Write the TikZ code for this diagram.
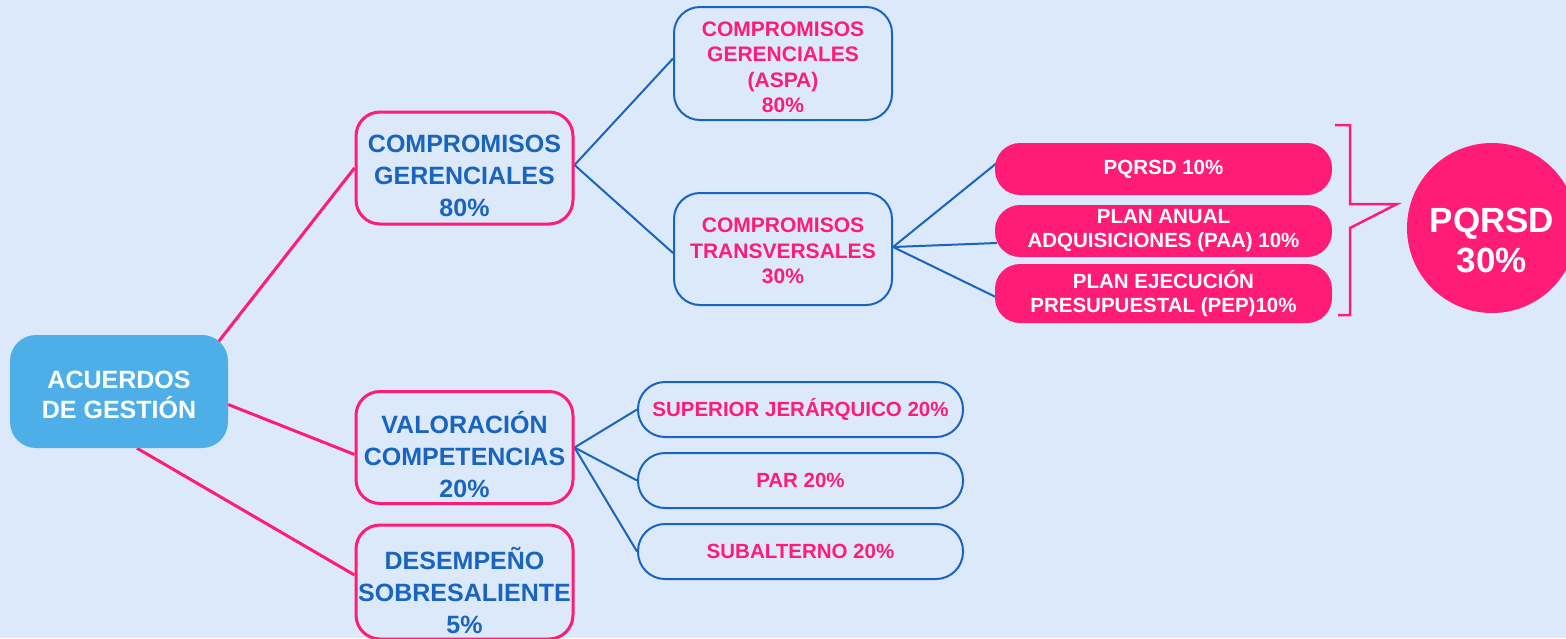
\documentclass[tikz,border=0pt]{standalone}
\usepackage{fontspec}
\setmainfont{Liberation Sans}
\definecolor{bgc}{RGB}{220,233,250}
\definecolor{pk}{RGB}{255,28,118}
\definecolor{bl}{RGB}{24,100,190}
\definecolor{sky}{RGB}{78,175,232}
\pgfdeclarelayer{back}
\pgfdeclarelayer{edges}
\pgfsetlayers{back,edges,main}
\begin{document}
\begin{tikzpicture}[x=1pt,y=-1pt,
  root/.style={rectangle,rounded corners=26pt,fill=sky,minimum width=218pt,minimum height=113pt,inner sep=0pt},
  lvlone/.style={rectangle,rounded corners=24pt,draw=pk,line width=3pt,fill=bgc,minimum width=217pt,minimum height=112pt,inner sep=0pt},
  lvltwo/.style={rectangle,rounded corners=26pt,draw=bl,line width=2pt,fill=bgc,minimum width=217pt,minimum height=112pt,inner sep=0pt},
  pill/.style={rectangle,rounded corners=25pt,fill=pk,text=white,font=\bfseries\fontsize{20.5}{24}\selectfont,align=center,minimum width=337pt,inner sep=0pt},
  oval/.style={rectangle,rounded corners=27pt,draw=bl,line width=2pt,fill=bgc,text=pk,font=\bfseries\fontsize{20.5}{24}\selectfont,align=center,minimum width=325pt,minimum height=55pt,inner sep=0pt},
  roottxt/.style={text=white,font=\bfseries\fontsize{25}{30}\selectfont,align=center,inner sep=0pt},
  onetxt/.style={text=bl,font=\bfseries\fontsize{25}{32}\selectfont,align=center,inner sep=0pt},
  twotxt/.style={text=pk,font=\bfseries\fontsize{21}{25.5}\selectfont,align=center,inner sep=0pt},
  pkline/.style={draw=pk,line width=3pt},
  blline/.style={draw=bl,line width=2pt}
]
\begin{pgfonlayer}{back}
\fill[bgc] (0,0) rectangle (1566,638);
\end{pgfonlayer}
\useasboundingbox (0,0) rectangle (1566,638);
\clip (0,0) rectangle (1566,638);

% root
\node[root] (acu) at (119,391.5) {};
\node[roottxt] (acut) at ([yshift=-3pt]acu.center) {ACUERDOS\\DE GESTIÓN};

% level one
\node[lvlone] (cg) at (464.5,168) {};
\node[onetxt] (cgt) at ([yshift=-8pt]cg.center) {COMPROMISOS\\GERENCIALES\\80\%};
\node[lvlone] (val) at (464.5,447.5) {};
\node[onetxt] (valt) at ([yshift=-7pt]val.center) {VALORACIÓN\\COMPETENCIAS\\20\%};
\node[lvlone,minimum height=114pt] (des) at (464.5,582) {};
\node[onetxt] (dest) at ([yshift=-8pt]des.center) {DESEMPEÑO\\SOBRESALIENTE\\5\%};

% level two
\node[lvltwo,minimum width=218pt,minimum height=113pt] (aspa) at (783,63.5) {};
\node[twotxt] (aspat) at ([yshift=-4pt]aspa.center) {COMPROMISOS\\GERENCIALES\\(ASPA)\\80\%};
\node[lvltwo,minimum width=218pt] (tra) at (783,249) {};
\node[twotxt] (trat) at ([yshift=-2pt]tra.center) {COMPROMISOS\\TRANSVERSALES\\30\%};

% pills
\node[pill,minimum height=52pt] (pq) at (1163.5,169) {PQRSD 10\%};
\node[pill,minimum height=52pt] (paa) at (1163.5,231) {PLAN ANUAL\\ADQUISICIONES (PAA) 10\%};
\node[pill,minimum height=59pt] (pep) at (1163.5,293.5) {PLAN EJECUCIÓN\\PRESUPUESTAL (PEP)10\%};

% total circle
\node[circle,fill=pk,minimum size=170pt,inner sep=0pt] (tot) at (1492,228) {};
\node[text=white,font=\bfseries\fontsize{35}{40}\selectfont,align=center,inner sep=0pt] (tott) at ([yshift=-12pt]tot.center) {PQRSD\\30\%};

% ovals
\node[oval] (sup) at (800.5,409.5) {SUPERIOR JERÁRQUICO 20\%};
\node[oval] (par) at (800.5,480.5) {PAR 20\%};
\node[oval] (sub) at (800.5,551.5) {SUBALTERNO 20\%};

% bracket
\draw[pk,line width=2.5pt,line join=miter] (1335,125) -- (1350,125) -- (1350,204) -- (1397,204) -- (1350,228) -- (1350,315) -- (1338,315);

\begin{pgfonlayer}{edges}
\draw[pkline] ([xshift=-20pt,yshift=-20pt]acu.north east) -- (cg.west);
\draw[pkline] ([yshift=-13pt]acu.east) -- ([yshift=-7pt]val.west);
\draw[pkline] ([xshift=18pt]acu.south) -- ([yshift=7pt]des.west);
\draw[blline] ([yshift=3pt]cg.east) -- ([yshift=5pt]aspa.west);
\draw[blline] ([yshift=3pt]cg.east) -- ([yshift=-4pt]tra.west);
\draw[blline] ([yshift=2pt]tra.east) -- ([xshift=2pt,yshift=6pt]pq.west);
\draw[blline] ([yshift=2pt]tra.east) -- ([xshift=2pt,yshift=-12pt]paa.west);
\draw[blline] ([yshift=2pt]tra.east) -- ([xshift=2pt,yshift=-4pt]pep.west);
\draw[blline] (val.east) -- (sup.west);
\draw[blline] (val.east) -- (par.west);
\draw[blline] (val.east) -- (sub.west);
\end{pgfonlayer}
\end{tikzpicture}
\end{document}
